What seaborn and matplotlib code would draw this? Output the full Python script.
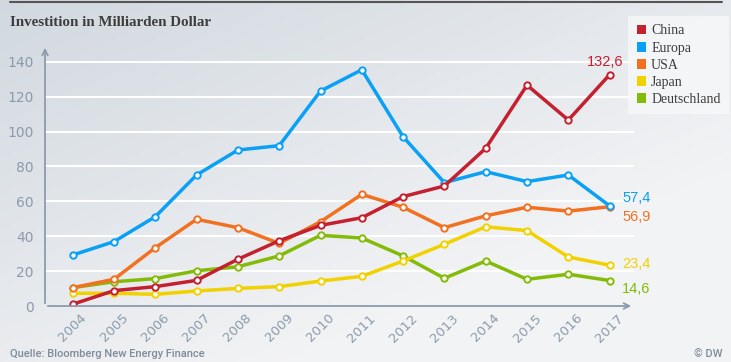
import numpy as np
import pandas as pd
import matplotlib
matplotlib.use("Agg")
import matplotlib.pyplot as plt
from matplotlib.patches import Patch
import seaborn as sns

# data
years = list(range(2004, 2018))
china = [1.0, 8.8, 11.1, 14.7, 26.8, 37.4, 46.2, 50.6, 62.7, 68.8, 90.4, 126.6, 106.6, 132.6]
europa = [29.2, 36.9, 51.2, 75.1, 89.4, 91.9, 123.2, 135.4, 97.0, 70.7, 77.0, 71.3, 75.1, 57.4]
usa = [10.5, 15.3, 33.4, 49.7, 44.9, 35.9, 48.3, 64.0, 56.6, 44.9, 51.7, 56.6, 54.4, 56.9]
japan = [7.3, 7.3, 6.7, 8.6, 10.1, 11.1, 14.3, 17.0, 25.8, 35.4, 45.4, 43.2, 28.1, 23.4]
deutschland = [10.5, 13.9, 15.7, 20.2, 22.5, 28.7, 40.5, 39.0, 28.7, 15.9, 25.8, 15.3, 18.2, 14.6]

countries = ["China", "Europa", "USA", "Japan", "Deutschland"]
series = [china, europa, usa, japan, deutschland]
colors = ["#c4202f", "#0aa0f5", "#f27121", "#f2d100", "#84bb08"]
end_labels = ["132,6", "57,4", "56,9", "23,4", "14,6"]

df = pd.DataFrame({
    "Jahr": years * len(countries),
    "Wert": sum(series, []),
    "Land": [c for c in countries for _ in years],
})

sns.set_style("white")
W, H = 731, 362
fig = plt.figure(figsize=(W / 100, H / 100), dpi=100)

# gradient background
bg = fig.add_axes([0, 0, 1, 1], zorder=-10)
gx, gy = np.meshgrid(np.linspace(0, 1, 200), np.linspace(0, 1, 100))
t = np.clip(0.65 * gx + 0.75 * gy, 0, 1)
c0 = np.array([0.82, 0.848, 0.875])
c1 = np.array([0.95, 0.953, 0.96])
img = c0[None, None, :] * (1 - t[..., None]) + c1[None, None, :] * t[..., None]
bg.imshow(img, aspect="auto", extent=[0, 1, 0, 1], origin="upper")
bg.axis("off")

ax = fig.add_axes([45 / W, 1 - 306 / H, (634 - 45) / W, (306 - 45) / H])
ax.set_facecolor("none")

order = ["Deutschland", "Japan", "USA", "Europa", "China"]
for land in order:
    col = colors[countries.index(land)]
    sns.lineplot(data=df[df["Land"] == land], x="Jahr", y="Wert", ax=ax,
                 color=col, linewidth=2.5, marker="o", markersize=4.6,
                 markerfacecolor="white", markeredgecolor=col,
                 markeredgewidth=1.4, legend=False, zorder=3)

ax.set_xlim(2003.33, 2017.59)
ax.set_ylim(0, 149.6)
ax.set_xticks(years)
ax.set_yticks(range(0, 141, 20))
axis_col = "#8c9bab"
ax.tick_params(axis="x", length=0, colors=axis_col, labelsize=9.5, rotation=45, pad=4)
ax.tick_params(axis="y", length=0, colors=axis_col, labelsize=10, pad=8)
for lab in ax.get_xticklabels():
    lab.set_ha("center")
ax.set_xlabel("")
ax.set_ylabel("")
for y in range(20, 141, 20):
    ax.axhline(y, color="white", linewidth=1.5, zorder=1)
for s in ax.spines.values():
    s.set_visible(False)
# axis lines with arrows
ax.annotate("", xy=(1.0, 0), xytext=(0, 0), xycoords="axes fraction",
            arrowprops=dict(arrowstyle="->", color=axis_col, lw=1.3))
ax.annotate("", xy=(0, 1.0), xytext=(0, 0), xycoords="axes fraction",
            arrowprops=dict(arrowstyle="->", color=axis_col, lw=1.3))

# end value labels
ax.text(2016.9, 136.0, end_labels[0], color=colors[0], fontsize=10.5, ha="center", va="bottom",
        family="Liberation Sans")
offs = {1: 62.0, 2: 51.0, 3: 24.0, 4: 10.0}
for i, yv in offs.items():
    ax.text(2017.3, yv, end_labels[i], color=colors[i], fontsize=10.5, ha="left", va="center",
            family="Liberation Sans")

# title, legend, footer
fig.add_artist(plt.Line2D([10 / W, 722 / W], [1 - 1.5 / H, 1 - 1.5 / H], color="#555555", lw=1.5))
fig.text(10 / W, 1 - 22 / H, "Investition in Milliarden Dollar", fontsize=10.8,
         family="Liberation Serif", weight="bold", color="#3d3d3d", va="center", ha="left")

handles = [Patch(facecolor=c, edgecolor="none") for c in colors]
leg = fig.legend(handles, countries, loc="upper right",
                 bbox_to_anchor=(729 / W, 1 - 16 / H), frameon=True, fancybox=False,
                 handlelength=0.7, handleheight=0.7, handletextpad=0.35,
                 labelspacing=0.3, borderpad=0.6, borderaxespad=0,
                 prop={"family": "Liberation Serif", "size": 10})
leg.get_frame().set_facecolor("#f7f8f9")
leg.get_frame().set_edgecolor("none")
for txt in leg.get_texts():
    txt.set_color("#3d3d3d")

fig.text(10 / W, 1 - 354 / H, "Quelle: Bloomberg New Energy Finance", fontsize=8,
         family="Roboto", weight="medium", color="#7f8c9a", va="center", ha="left")
fig.text(722 / W, 1 - 354 / H, "© DW", fontsize=8, family="Roboto",
         weight="medium", color="#7f8c9a", va="center", ha="right")

fig.savefig("out.png", dpi=100)
